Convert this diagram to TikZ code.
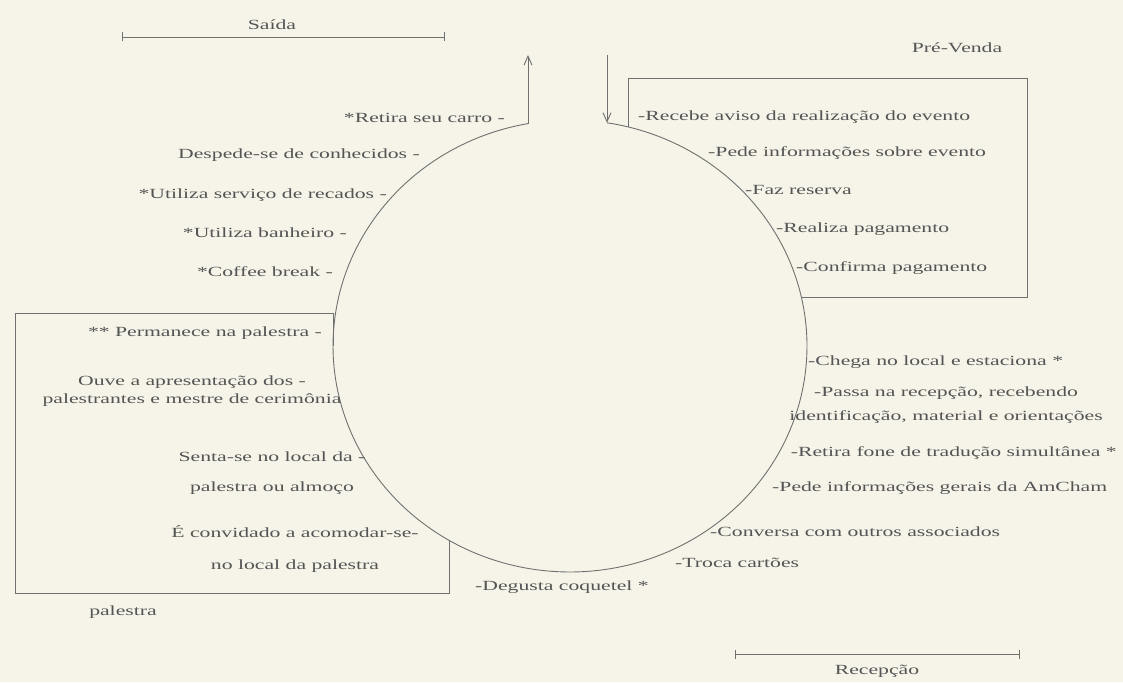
\documentclass[tikz,border=0pt]{standalone}
\usepackage{fontspec}
\setmainfont[FakeStretch=1.55]{Liberation Serif}
\usetikzlibrary{arrows.meta}
\definecolor{bg}{HTML}{F6F4E9}
\definecolor{ink}{HTML}{545454}
\definecolor{ln}{HTML}{707070}
\begin{document}
\begin{tikzpicture}[x=1pt,y=-1pt,
  txt/.style={font=\fontsize{14}{16}\selectfont, text=ink, inner sep=0pt},
  lbl/.style={txt, align=center},
  line/.style={draw=ln, line width=0.9pt},
  arr/.style={line, -{Straight Barb[length=9pt,width=8pt]}},
  bar/.style={line, {Bar[width=9pt]}-{Bar[width=9pt]}}]
\fill[bg] (0,0) rectangle (1123,682);
\useasboundingbox (0,0) rectangle (1123,682);

% cycle (ellipse with a gap at the top)
\coordinate (c) at (570,346);
\draw[line] plot[domain=279:619.8, samples=240] ({570+237*cos(\x)},{346+226*sin(\x)});

% boxes cut by the cycle
\draw[line] (628,126.9) -- (628,78) -- (1027,78) -- (1027,297) -- (801.4,297);
\draw[line] (449,540.3) -- (449,593) -- (15,593) -- (15,313) -- (333,313) -- (333,346);

% entry / exit arrows
\coordinate (outS) at (528,123.6);
\coordinate (outE) at (528,55);
\coordinate (inS) at (607,55);
\coordinate (inE) at (607,122.8);
\draw[arr] (outS) -- (outE);
\draw[arr] (inS) -- (inE);

% scale bars
\coordinate (sa1) at (122,37);
\coordinate (sa2) at (445,37);
\draw[bar] (sa1) -- (sa2);
\node[txt] (saida) at (272,25) {Saída};
\coordinate (re1) at (735,654);
\coordinate (re2) at (1020,654);
\draw[bar] (re1) -- (re2);
\node[txt] (recep) at (877,671) {Recepção};

\node[txt] (prev) at (957,48) {Pré-Venda};
\node[txt] (pal) at (123,612) {palestra};

% pre-sale
\node[txt, anchor=west] (r1) at (638,117) {-Recebe aviso da realização do evento};
\node[txt, anchor=west] (r2) at (708,153) {-Pede informações sobre evento};
\node[txt, anchor=west] (r3) at (745,190) {-Faz reserva};
\node[txt, anchor=west] (r4) at (776,229) {-Realiza pagamento};
\node[txt, anchor=west] (r5) at (796,268) {-Confirma pagamento};

% reception
\node[txt, anchor=west] (r6) at (808,362) {-Chega no local e estaciona *};
\node[lbl] (r7) at (946,405) {-Passa na recepção, recebendo\\[8pt]identificação, material e orientações};
\node[txt, anchor=east] (r8) at (1117,453) {-Retira fone de tradução simultânea *};
\node[txt, anchor=west] (r9) at (772,488) {-Pede informações gerais da AmCham};
\node[txt, anchor=west] (r10) at (710,532) {-Conversa com outros associados};
\node[txt, anchor=west] (r11) at (675,563) {-Troca cartões};
\node[txt, anchor=west] (r12) at (475,587) {-Degusta coquetel *};

% lecture
\node[lbl] (l1) at (295,549) {É convidado a acomodar-se-\\[16pt]no local da palestra};
\node[lbl] (l2) at (272,473) {Senta-se no local da -\\[14pt]palestra ou almoço};
\node[lbl] (l3) at (192,391) {Ouve a apresentação dos -\\[2pt]palestrantes e mestre de cerimônia};
\node[txt, anchor=east] (l4) at (322,333) {** Permanece na palestra -};

% exit
\node[txt, anchor=east] (l5) at (333,272) {*Coffee break -};
\node[txt, anchor=east] (l6) at (347,233) {*Utiliza banheiro -};
\node[txt, anchor=east] (l7) at (387,195) {*Utiliza serviço de recados -};
\node[txt, anchor=east] (l8) at (420,155) {Despede-se de conhecidos -};
\node[txt, anchor=east] (l9) at (505,118) {*Retira seu carro -};
\end{tikzpicture}
\end{document}
